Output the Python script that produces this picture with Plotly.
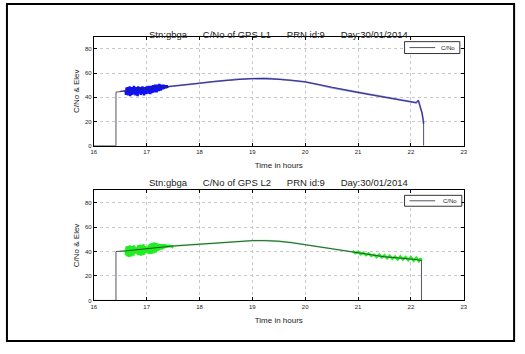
import plotly.graph_objects as go

# ---------------- data ----------------
# smooth part of the L1 C/No curve (hours, dB-Hz)
l1_t = [16.0, 16.42, 16.42, 16.50, 16.60, 17.40, 17.50, 17.75, 18.00, 18.25, 18.50, 18.75,
        19.00, 19.25, 19.50, 19.75, 20.00, 20.25, 20.50, 20.75, 21.00, 21.25, 21.50,
        21.75, 22.00, 22.10, 22.14, 22.16, 22.19, 22.21, 22.23, 22.24, 22.24]
l1_v = [0, 0, 44.2, 44.8, 45.3, 48.8, 49.2, 50.5, 51.6, 53.0, 54.0, 55.0,
        55.5, 55.5, 55.0, 54.0, 52.7, 50.5, 47.9, 46.0, 44.0, 42.0, 40.0,
        38.2, 36.3, 35.5, 37.5, 35.0, 31.0, 27.0, 22.0, 18.0, 0]

# noisy stretch of L1 (16.60 - 17.40 h)
l1_nt = [16.60, 16.61, 16.62, 16.63, 16.64, 16.65, 16.66, 16.67, 16.68, 16.69,
         16.70, 16.71, 16.72, 16.73, 16.74, 16.75, 16.76, 16.77, 16.78, 16.79,
         16.80, 16.81, 16.82, 16.83, 16.84, 16.85, 16.86, 16.87, 16.88, 16.89,
         16.90, 16.91, 16.92, 16.93, 16.94, 16.95, 16.96, 16.97, 16.98, 16.99,
         17.00, 17.01, 17.02, 17.03, 17.04, 17.05, 17.06, 17.07, 17.08, 17.09,
         17.10, 17.11, 17.12, 17.13, 17.14, 17.15, 17.16, 17.17, 17.18, 17.19,
         17.20, 17.21, 17.22, 17.23, 17.24, 17.25, 17.26, 17.27, 17.28, 17.29,
         17.30, 17.31, 17.32, 17.33, 17.34, 17.35, 17.36, 17.37, 17.38, 17.39, 17.40]
l1_nv = [45.5, 42.0, 48.0, 42.5, 48.5, 41.5, 47.5, 43.5, 49.0, 41.0,
         48.0, 43.0, 48.5, 42.0, 47.0, 43.5, 49.5, 42.5, 47.5, 41.5,
         48.5, 44.0, 48.0, 41.0, 49.0, 43.0, 47.5, 43.5, 48.5, 42.0,
         48.0, 42.5, 49.0, 43.5, 47.5, 41.5, 48.5, 44.0, 48.0, 42.5,
         49.0, 43.5, 48.5, 43.0, 49.5, 44.0, 48.5, 42.5, 49.5, 44.5,
         49.0, 43.5, 50.0, 44.5, 49.0, 44.0, 50.5, 45.0, 49.5, 44.0,
         50.5, 45.5, 50.0, 45.0, 51.0, 46.0, 50.0, 45.5, 50.5, 46.5,
         50.0, 46.5, 50.5, 47.0, 50.0, 47.5, 50.0, 47.5, 50.0, 48.0, 49.0]

# smooth part of the L2 C/No curve
l2_t = [16.0, 16.42, 16.42, 16.50, 16.60, 17.50, 17.75, 18.00, 18.25, 18.50, 18.75,
        19.00, 19.25, 19.50, 19.75, 20.00, 20.25, 20.50, 20.75, 21.00, 21.25, 21.50,
        21.75, 22.00, 22.10, 22.20, 22.20]
l2_v = [0, 0, 40.0, 40.2, 40.5, 44.5, 45.3, 46.0, 47.0, 47.8, 48.5,
        48.9, 48.9, 48.4, 47.2, 45.5, 43.9, 42.2, 40.6, 38.9, 37.2, 35.7,
        34.8, 34.0, 33.4, 32.7, 0]

# noisy stretch of L2 at the start (16.60 - 17.50 h)
l2_nt = [16.60, 16.61, 16.62, 16.63, 16.64, 16.65, 16.66, 16.67, 16.68, 16.69,
         16.70, 16.71, 16.72, 16.73, 16.74, 16.75, 16.76, 16.77, 16.78, 16.79,
         16.80, 16.81, 16.82, 16.83, 16.84, 16.85, 16.86, 16.87, 16.88, 16.89,
         16.90, 16.91, 16.92, 16.93, 16.94, 16.95, 16.96, 16.97, 16.98, 16.99,
         17.00, 17.01, 17.02, 17.03, 17.04, 17.05, 17.06, 17.07, 17.08, 17.09,
         17.10, 17.11, 17.12, 17.13, 17.14, 17.15, 17.16, 17.17, 17.18, 17.19,
         17.20, 17.21, 17.22, 17.23, 17.24, 17.25, 17.26, 17.27, 17.28, 17.29,
         17.30, 17.31, 17.32, 17.33, 17.34, 17.35, 17.36, 17.37, 17.38, 17.39,
         17.40, 17.41, 17.42, 17.43, 17.44, 17.45, 17.46, 17.47, 17.48, 17.49, 17.50]
l2_nv = [41.0, 37.0, 44.0, 36.0, 44.5, 36.5, 43.5, 35.5, 45.0, 37.0,
         44.0, 36.0, 44.5, 37.5, 43.5, 36.5, 45.0, 38.0, 44.0, 38.5,
         43.0, 39.0, 43.5, 37.5, 45.0, 37.0, 45.5, 37.5, 44.5, 36.5,
         45.5, 38.0, 45.0, 37.0, 46.0, 37.5, 44.5, 38.5, 44.0, 39.0,
         43.5, 39.5, 44.0, 38.5, 45.0, 38.0, 46.0, 38.5, 46.5, 38.0,
         47.0, 39.0, 46.5, 38.5, 47.5, 39.5, 46.5, 39.0, 47.0, 40.0,
         46.0, 40.5, 46.5, 41.0, 45.5, 41.5, 46.0, 42.0, 45.5, 41.5,
         46.0, 42.5, 45.5, 42.5, 46.0, 43.0, 45.5, 43.0, 45.5, 43.5,
         45.5, 43.5, 45.5, 43.5, 45.0, 43.5, 45.0, 43.5, 45.0, 44.0, 44.5]

# noisy stretch of L2 near the end (20.90 - 22.20 h)
l2_et = [20.90, 20.95, 21.00, 21.05, 21.10, 21.15, 21.20, 21.25, 21.30, 21.35,
         21.40, 21.45, 21.50, 21.55, 21.60, 21.65, 21.70, 21.75, 21.80, 21.85,
         21.90, 21.95, 22.00, 22.05, 22.10, 22.15, 22.18, 22.20]
l2_ev = [40.5, 38.5, 39.8, 37.8, 39.0, 37.0, 38.5, 36.5, 37.5, 35.5,
         37.5, 35.0, 37.0, 34.5, 36.5, 34.0, 36.0, 33.5, 36.0, 33.5,
         35.5, 33.0, 35.5, 32.5, 35.0, 32.0, 34.5, 32.5]

x_ticks = [16, 17, 18, 19, 20, 21, 22, 23]
y_ticks = [0, 20, 40, 60, 80]
titles = ["Stn:gbga      C/No of GPS L1      PRN id:9      Day:30/01/2014",
          "Stn:gbga      C/No of GPS L2      PRN id:9      Day:30/01/2014"]
legend_name = "C/No"
x_title = "Time in hours"
y_title = "C/No & Elev"

# ---------------- figure ----------------
FONT = "Liberation Sans, Arial, sans-serif"
W, H = 525, 354
BLUE, GREEN, DARK = "#1010ff", "#22ee22", "#2a2a3a"

fig = go.Figure()

def add_panel(smooth_t, smooth_v, noise_sets, color, xa, ya):
    for nt, nv in noise_sets:
        fig.add_trace(go.Scatter(x=nt, y=nv, mode="lines", line=dict(color=color, width=2.4),
                                 showlegend=False, hoverinfo="skip", xaxis=xa, yaxis=ya))
    fig.add_trace(go.Scatter(x=smooth_t[3:-1], y=smooth_v[3:-1], mode="lines",
                             line=dict(color=color, width=1.8), opacity=0.55,
                             showlegend=False, hoverinfo="skip", xaxis=xa, yaxis=ya))
    fig.add_trace(go.Scatter(x=smooth_t, y=smooth_v, mode="lines", name=legend_name,
                             line=dict(color=DARK, width=0.8), xaxis=xa, yaxis=ya,
                             showlegend=False))

add_panel(l1_t, l1_v, [(l1_nt, l1_nv)], BLUE, "x", "y")
add_panel(l2_t, l2_v, [(l2_nt, l2_nv), (l2_et, l2_ev)], GREEN, "x2", "y2")

x_dom = [92 / W, 467 / W]
dom1 = [1 - 147 / H, 1 - 37 / H]
dom2 = [1 - 303 / H, 1 - 192 / H]

axis_common = dict(showline=True, linecolor="black", linewidth=1, mirror="ticks",
                   ticks="inside", ticklen=3, tickcolor="black", tickwidth=0.8,
                   showgrid=True, gridcolor="#c8c8c8", griddash="dot", gridwidth=0.8,
                   zeroline=False, tickfont=dict(family=FONT, size=6, color="#222"))

xa = dict(axis_common, range=[16, 23], tickvals=x_ticks, domain=x_dom,
          title=dict(text=x_title, font=dict(family=FONT, size=8, color="#222"), standoff=8))
ya = dict(axis_common, range=[0, 90], tickvals=y_ticks,
          title=dict(text=y_title, font=dict(family=FONT, size=8, color="#222"), standoff=4))

# hand-drawn legend boxes (MATLAB-style compact legend), in pixel positions
def px(x):
    return x / W

def py(y):
    return 1 - y / H

shapes = [dict(type="rect", xref="paper", yref="paper",
               x0=px(4), x1=px(518), y0=py(344), y1=py(4),
               line=dict(color="black", width=2))]
annotations = []
for (bx0, bx1, by0, by1) in [(407, 463, 42, 54), (407, 465, 197, 208)]:
    ym = (by0 + by1) / 2
    shapes.append(dict(type="rect", xref="paper", yref="paper",
                       x0=px(bx0), x1=px(bx1), y0=py(by1), y1=py(by0),
                       line=dict(color="black", width=0.8), fillcolor="white", layer="above"))
    shapes.append(dict(type="line", xref="paper", yref="paper",
                       x0=px(bx0 + 5), x1=px(bx0 + 31), y0=py(ym), y1=py(ym),
                       line=dict(color=DARK, width=0.8), layer="above"))
    annotations.append(dict(text=legend_name, x=px(bx1 - 3), y=py(ym), xref="paper", yref="paper",
                            xanchor="right", yanchor="middle", showarrow=False,
                            font=dict(family=FONT, size=6, color="#222")))

for title, ty in zip(titles, [27, 184]):
    annotations.append(dict(text=title.replace(" ", "\u00a0"), x=(x_dom[0] + x_dom[1]) / 2,
                            y=py(ty), xref="paper", yref="paper", showarrow=False,
                            font=dict(family=FONT, size=9.5, color="#222")))

fig.update_layout(
    width=W, height=H,
    margin=dict(l=0, r=0, t=0, b=0),
    paper_bgcolor="white", plot_bgcolor="white",
    showlegend=False,
    xaxis=dict(xa, anchor="y"),
    yaxis=dict(ya, domain=dom1, anchor="x"),
    xaxis2=dict(xa, anchor="y2"),
    yaxis2=dict(ya, domain=dom2, anchor="x2"),
    annotations=annotations,
    shapes=shapes,
)

fig.write_html("out.html")
